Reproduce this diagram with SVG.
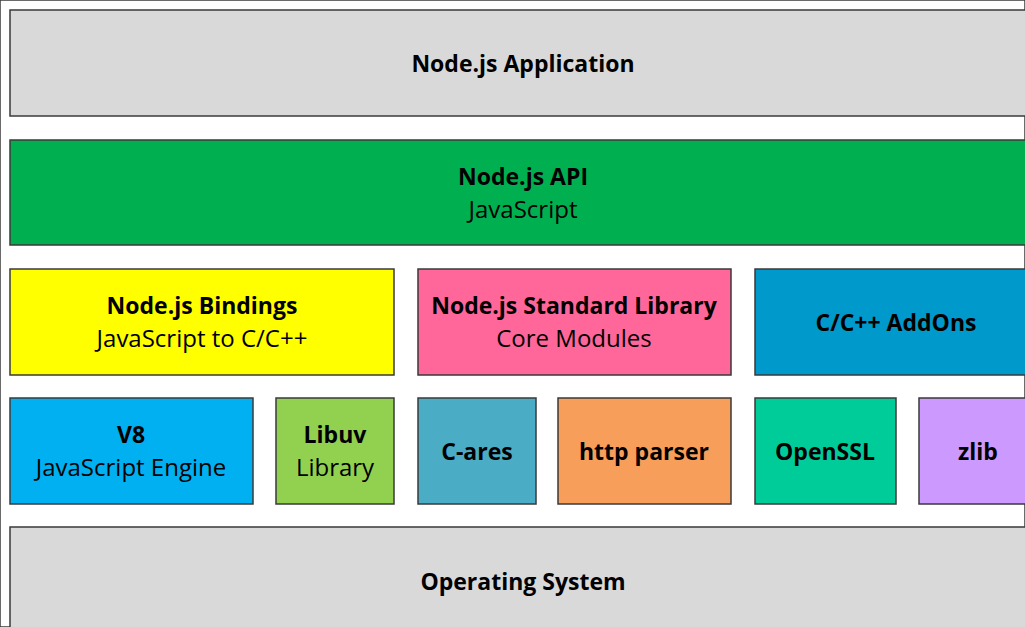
<svg xmlns="http://www.w3.org/2000/svg" width="1025" height="627" viewBox="0 0 1025 627">
<style>
rect{stroke:#3a3a3a;stroke-width:1.5}
text{font-family:"Open Sans",Lato,"Liberation Sans",sans-serif;font-size:24px;text-anchor:middle;fill:#000;dominant-baseline:central}
.b{font-weight:bold;font-size:23px}
</style>
<rect x="0" y="0" width="1025" height="627" fill="#fff" stroke="none"/>
<g id="app"><rect x="10" y="10" width="1030" height="106" fill="#D9D9D9"/><text class="b" x="523" y="63">Node.js Application</text></g>
<g id="api"><rect x="10" y="140" width="1030" height="105" fill="#00B050"/><text class="b" x="523" y="176">Node.js API</text><text x="523" y="208">JavaScript</text></g>
<g id="bindings"><rect x="10" y="269" width="384" height="106" fill="#FFFF00"/><text class="b" x="202" y="305">Node.js Bindings</text><text x="202" y="337">JavaScript to C/C++</text></g>
<g id="stdlib"><rect x="418" y="269" width="313" height="106" fill="#FF6699"/><text class="b" x="574" y="305">Node.js Standard Library</text><text x="574" y="337">Core Modules</text></g>
<g id="addons"><rect x="755" y="269" width="285" height="106" fill="#0099CC"/><text class="b" x="896" y="322">C/C++ AddOns</text></g>
<g id="v8"><rect x="10" y="398" width="243" height="106" fill="#00B0F0"/><text class="b" x="131" y="434">V8</text><text x="131" y="466">JavaScript Engine</text></g>
<g id="libuv"><rect x="276" y="398" width="118" height="106" fill="#92D050"/><text class="b" x="335" y="434">Libuv</text><text x="335" y="466">Library</text></g>
<g id="cares"><rect x="418" y="398" width="118" height="106" fill="#4BACC6"/><text class="b" x="477" y="451">C-ares</text></g>
<g id="http"><rect x="558" y="398" width="173" height="106" fill="#F79F5A"/><text class="b" x="644" y="451">http parser</text></g>
<g id="openssl"><rect x="755" y="398" width="141" height="106" fill="#00CC99"/><text class="b" x="825" y="451">OpenSSL</text></g>
<g id="zlib"><rect x="919" y="398" width="120" height="106" fill="#CC99FF"/><text class="b" x="978" y="451">zlib</text></g>
<g id="os"><rect x="10" y="527" width="1030" height="120" fill="#D9D9D9"/><text class="b" x="523" y="581">Operating System</text></g>
<g id="connectors"></g>
</svg>
